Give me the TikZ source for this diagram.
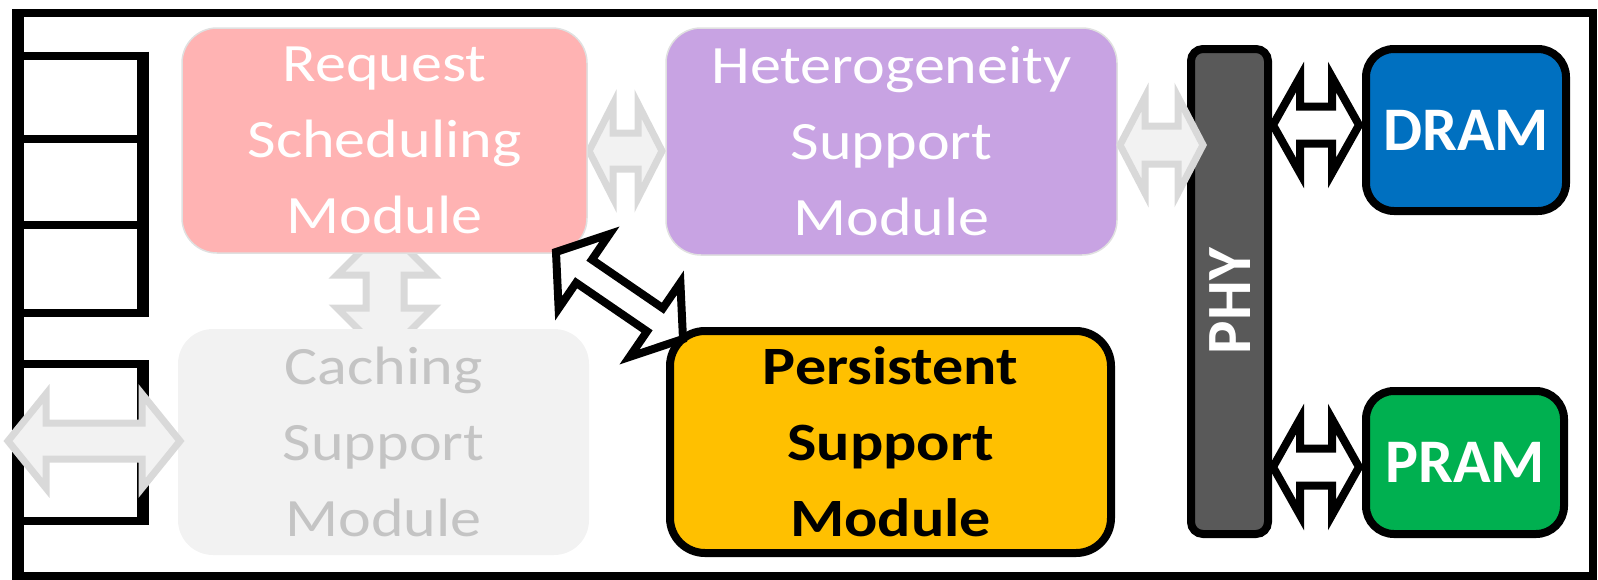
\documentclass[tikz,border=0pt]{standalone}
\usepackage{fontspec}
\setmainfont{Carlito}
\newfontfamily\modfont{Carlito}[FakeStretch=1.15]
\usetikzlibrary{calc}

\definecolor{reqpink}{HTML}{FFB3B3}
\definecolor{hetpurple}{HTML}{C8A3E3}
\definecolor{cachegray}{HTML}{F2F2F2}
\definecolor{cachetext}{HTML}{C4C4C4}
\definecolor{persist}{HTML}{FFC000}
\definecolor{phygray}{HTML}{595959}
\definecolor{dramblue}{HTML}{0070C0}
\definecolor{pramgreen}{HTML}{00B050}
\definecolor{arrowfill}{HTML}{F2F2F2}
\definecolor{arrowline}{HTML}{D9D9D9}

% Double-headed block arrow between two named points.
% #1 style, #2/#3 tips, #4 head length, #5 head half-width, #6 shaft half-width
\newcommand\blockarrow[6][]{%
  \draw[#1] (#2)
    -- ($(#2)!#4!(#3)!#5!90:(#3)$)
    -- ($(#2)!#4!(#3)!#6!90:(#3)$)
    -- ($(#3)!#4!(#2)!#6!-90:(#2)$)
    -- ($(#3)!#4!(#2)!#5!-90:(#2)$)
    -- (#3)
    -- ($(#3)!#4!(#2)!#5!90:(#2)$)
    -- ($(#3)!#4!(#2)!#6!90:(#2)$)
    -- ($(#2)!#4!(#3)!#6!-90:(#3)$)
    -- ($(#2)!#4!(#3)!#5!-90:(#3)$)
    -- cycle;}

\tikzset{
  qline/.style={line width=8pt},
  qedge/.style={line width=12pt},
  module/.style={rectangle, rounded corners=35pt, inner sep=0pt, align=center,
    font={\modfont\fontsize{54}{76}\selectfont}},
  hwbox/.style={rectangle, draw=black, line width=8pt, inner sep=0pt,
    text=white, font={\bfseries\fontsize{62}{70}\selectfont}},
  softarrow/.style={fill=arrowfill, draw=arrowline, line width=7pt, miter limit=10},
  hardarrow/.style={fill=white, draw=black, line width=8pt, miter limit=10},
}

\begin{document}
\begin{tikzpicture}[x=1pt, y=-1pt]
\useasboundingbox (0,0) rectangle (1598,579);

% outer frame
\draw[line width=8pt] (17,13) rectangle (1593,576);
\draw[line width=12pt] (18,9) -- (18,580);

% request queue (three slots)
\draw[qline] (18,55.5) -- (149,55.5);
\draw[qline] (18,139) -- (143,139);
\draw[qline] (18,225) -- (143,225);
\draw[qline] (18,313) -- (149,313);
\draw[qedge] (143,51.5) -- (143,317);

% response queue (one slot)
\draw[qline] (18,364) -- (149,364);
\draw[qline] (18,521) -- (149,521);
\draw[qedge] (143,360) -- (143,525);

% end points of the links behind the modules
\coordinate (rsL) at (589,151);
\coordinate (rsR) at (662,151);
\coordinate (rcT) at (385,227);
\coordinate (rcB) at (385,356);
\coordinate (pdL) at (1273,125);
\coordinate (pdR) at (1359,125);
\coordinate (ppL) at (1273,467);
\coordinate (ppR) at (1359,467);

\blockarrow[softarrow]{rsL}{rsR}{24pt}{47pt}{18pt}
\blockarrow[softarrow]{rcT}{rcB}{48pt}{48pt}{19pt}
\blockarrow[hardarrow]{pdL}{pdR}{27pt}{48pt}{18.5pt}
\blockarrow[hardarrow]{ppL}{ppR}{27pt}{48pt}{18.5pt}

% controller modules
\node[module, fill=reqpink, draw=black!12, line width=1.5pt, text=white,
      minimum width=405pt, minimum height=225pt] (req) at (384.5,140.5)
  {Request\\Scheduling\\Module};
\node[module, fill=hetpurple, draw=black!12, line width=1.5pt, text=white,
      minimum width=451pt, minimum height=227pt] (het) at (891.5,141.5)
  {Heterogeneity\\Support\\Module};
\node[module, fill=cachegray, text=cachetext,
      minimum width=411pt, minimum height=226pt] (cache) at (383.5,442)
  {Caching\\Support\\Module};
\node[module, fill=persist, draw=black, line width=8pt, text=black,
      font={\modfont\bfseries\fontsize{54}{76}\selectfont},
      minimum width=441pt, minimum height=222pt] (pers) at (890.5,442)
  {Persistent\\Support\\Module};

% physical layer and memories
\node[hwbox, fill=phygray, rounded corners=12pt,
      minimum width=77pt, minimum height=485pt] (phy) at (1229.5,291.5) {};
\node[rotate=90, text=white, inner sep=0pt,
      font={\bfseries\fontsize{63}{70}\selectfont}] (phylabel) at (1230,301) {PHY};
\node[hwbox, fill=dramblue, rounded corners=28pt,
      minimum width=200pt, minimum height=162pt] (dram) at (1466,130) {DRAM};
\node[hwbox, fill=pramgreen, rounded corners=28pt,
      minimum width=198pt, minimum height=143pt] (pram) at (1465,462.5) {PRAM};

% link from the heterogeneity module, overlapping the PHY bar
\coordinate (hpL) at (1120,145);
\coordinate (hpR) at (1203,145);
\blockarrow[softarrow]{hpL}{hpR}{25pt}{48pt}{19pt}

% host-side link over the response queue
\coordinate (hostL) at (8,441);
\coordinate (hostR) at (180,441);
\blockarrow[softarrow]{hostL}{hostR}{38pt}{47pt}{18pt}

% link between scheduler and persistence module
\coordinate (spA) at (556,252);
\coordinate (spB) at (683,339);
\blockarrow[hardarrow]{spA}{spB}{34pt}{45pt}{14pt}
\end{tikzpicture}
\end{document}
